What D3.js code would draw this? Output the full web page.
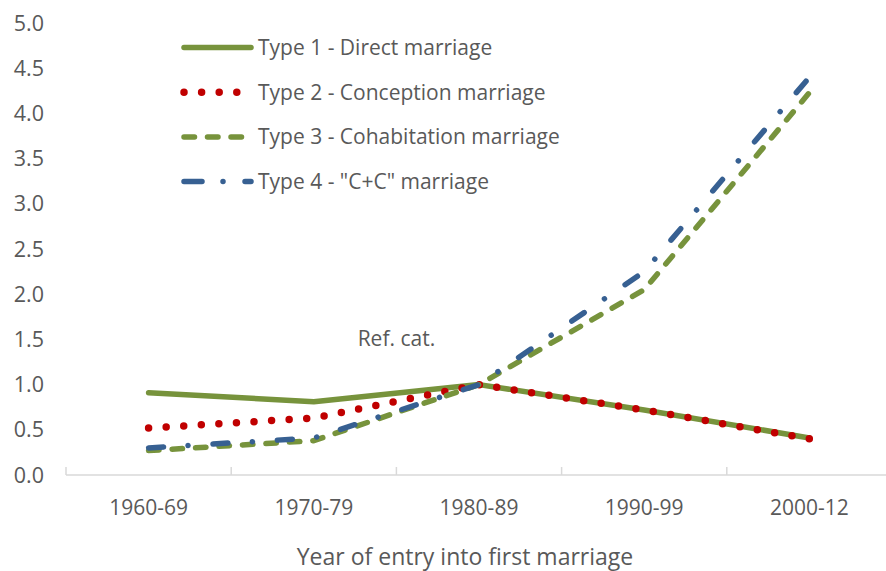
<!DOCTYPE html>
<html>
<head>
<meta charset="utf-8">
<script src="https://cdn.jsdelivr.net/npm/d3@7"></script>
<style>
  body { margin: 0; background: #fff; }
  text { font-family: "Open Sans", sans-serif; fill: #595959; }
</style>
</head>
<body>
<svg id="chart" width="886" height="571"></svg>
<script>
// categories on the x axis
var periods = ["1960-69", "1970-79", "1980-89", "1990-99", "2000-12"];

// relative risk per period
var type1 = [0.91, 0.81, 1.0, 0.72, 0.41];
var type2 = [0.52, 0.63, 1.0, 0.72, 0.40];
var type3 = [0.27, 0.38, 1.0, 2.05, 4.23];
var type4 = [0.30, 0.41, 1.0, 2.25, 4.40];

var seriesNames = [
  "Type 1 - Direct marriage",
  "Type 2 - Conception marriage",
  "Type 3 - Cohabitation marriage",
  "Type 4 - \"C+C\" marriage"
];

var yTicks = [0, 0.5, 1, 1.5, 2, 2.5, 3, 3.5, 4, 4.5, 5];

var svg = d3.select("#chart"),
  width = +svg.attr("width"),
  height = +svg.attr("height");

var x = d3.scaleBand().domain(periods).range([66, 892]);
var y = d3.scaleLinear().domain([0, 5]).range([475, 23]);

//line styles, one per series
var styles = [
  { color: "#77933C", w: 5.5, dash: null, cap: "round" },
  { color: "#C00000", w: 7.5, dash: "0 17.6", cap: "round" },
  { color: "#77933C", w: 5.5, dash: "10.5 13", cap: "round" },
  { color: "#376092", w: 5.5, dash: "15 24.5 0.01 25", cap: "round" }
];

var series = [type1, type2, type3, type4].map(function (vals, i) {
  return { name: seriesNames[i], style: styles[i],
    pts: vals.map(function (v, j) { return { p: periods[j], v: v }; }) };
});

// x axis line + upward ticks
svg.append("line")
  .attr("x1", 66).attr("x2", width)
  .attr("y1", y(0)).attr("y2", y(0))
  .attr("stroke", "#D9D9D9").attr("stroke-width", 1.5);

var tickXs = periods.map(function (p) { return x(p); }).concat([x.range()[1]]);
svg.append("g").selectAll("line")
  .data(tickXs)
  .enter().append("line")
  .attr("x1", function (d) { return d; }).attr("x2", function (d) { return d; })
  .attr("y1", y(0) - 8).attr("y2", y(0))
  .attr("stroke", "#D9D9D9").attr("stroke-width", 1.5);

// x labels
svg.append("g").selectAll("text")
  .data(periods)
  .enter().append("text")
  .attr("x", function (d) { return x(d) + x.bandwidth() / 2; })
  .attr("y", 515)
  .attr("text-anchor", "middle")
  .style("font-size", "21px")
  .text(function (d) { return d; });

// y labels (no axis line in the original)
svg.append("g").selectAll("text")
  .data(yTicks)
  .enter().append("text")
  .attr("x", 44)
  .attr("y", function (d) { return y(d) + 7.5; })
  .attr("text-anchor", "end")
  .style("font-size", "21.5px")
  .text(function (d) { return d3.format(".1f")(d); });

// axis title
svg.append("text")
  .attr("x", 465).attr("y", 565)
  .attr("text-anchor", "middle")
  .style("font-size", "23px")
  .text("Year of entry into first marriage");

// the lines
var line = d3.line()
  .x(function (d) { return x(d.p) + x.bandwidth() / 2; })
  .y(function (d) { return y(d.v); });

svg.append("g").selectAll("path")
  .data(series)
  .enter().append("path")
  .attr("d", function (d) { return line(d.pts); })
  .attr("fill", "none")
  .attr("stroke", function (d) { return d.style.color; })
  .attr("stroke-width", function (d) { return d.style.w; })
  .attr("stroke-dasharray", function (d) { return d.style.dash; })
  .attr("stroke-linecap", function (d) { return d.style.cap; })
  .attr("stroke-linejoin", "round");

// reference category note
svg.append("text")
  .attr("x", x("1980-89")).attr("y", y(1.5) + 7)
  .attr("text-anchor", "middle")
  .style("font-size", "21px")
  .text("Ref. cat.");

// legend
var legend = svg.append("g").selectAll("g")
  .data(series)
  .enter().append("g")
  .attr("transform", function (d, i) { return "translate(0," + (47.5 + i * 44.7) + ")"; });

legend.append("line")
  .attr("x1", 184).attr("x2", 251)
  .attr("y1", 0).attr("y2", 0)
  .attr("stroke", function (d) { return d.style.color; })
  .attr("stroke-width", function (d) { return d.style.w; })
  .attr("stroke-dasharray", function (d, i) { return i == 3 ? "18 21 0.01 22" : d.style.dash; })
  .attr("stroke-linecap", "round");

legend.append("text")
  .attr("x", 258).attr("y", 7.5)
  .style("font-size", "21px")
  .text(function (d) { return d.name; });
</script>
</body>
</html>
